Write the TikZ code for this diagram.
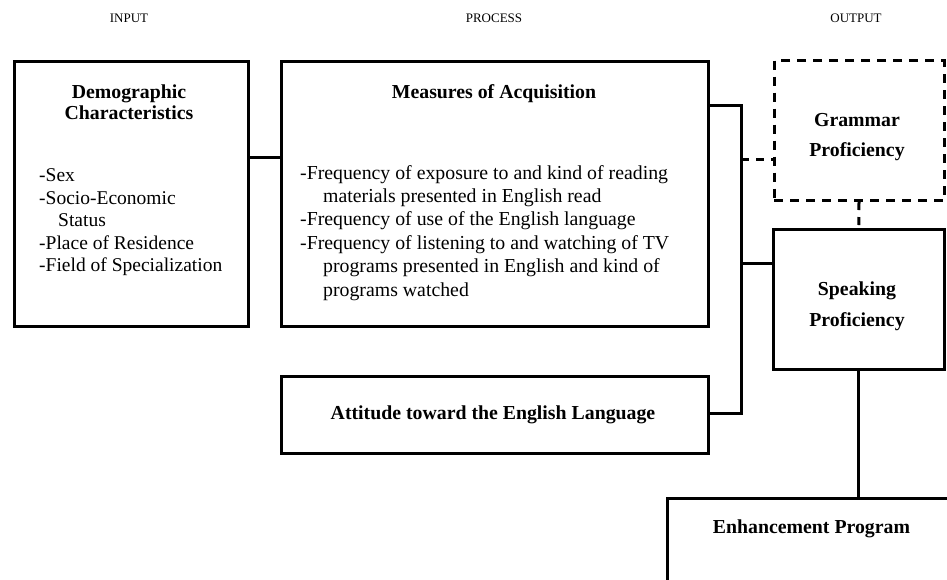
\documentclass[tikz,border=0pt]{standalone}
\usepackage{fontspec}
\setmainfont{Liberation Serif}
\begin{document}
\begin{tikzpicture}[x = 1pt, y = 1pt, yscale = -1, xscale = 1,
  box/.style = {draw, line width = 3pt, inner sep = 0pt, anchor = north west},
  dashbox/.style = {box, dash pattern = on 9pt off 7pt},
  link/.style = {line width = 3pt},
  dashlink/.style = {link, dash pattern = on 8pt off 7pt},
  head/.style = {font = \fontsize{13}{15}\selectfont, inner sep = 0pt},
  title/.style = {font = \fontsize{19.8}{21}\selectfont\bfseries, align = center, inner sep = 0pt},
  listtext/.style = {font = \fontsize{19.5}{22.5}\selectfont, align = left, inner sep = 0pt, anchor = north west}]
\useasboundingbox (0, 0) rectangle (947, 579);
\clip (0, 0) rectangle (947, 579);
% column heads
\node [head] (hin) at (129, 18) {INPUT};
\node [head] (hproc) at (494, 18) {PROCESS};
\node [head] (hout) at (856, 18) {OUTPUT};
% boxes
\node [box, minimum width = 234pt, minimum height = 265pt] (demo) at (12.7, 60) {};
\node [box, minimum width = 426.7pt, minimum height = 265pt] (meas) at (280, 60) {};
\node [box, minimum width = 426.7pt, minimum height = 77.5pt] (att) at (280, 374.5) {};
\node [dashbox, minimum width = 170pt, minimum height = 140pt] (gram) at (772.5, 59) {};
\node [box, minimum width = 170.5pt, minimum height = 140pt] (speak) at (772, 228) {};
\node [box, minimum width = 291pt, minimum height = 130pt] (enh) at (666, 497) {};
% texts
\node [title] (demotitle) at (129, 102.5) {Demographic\\Characteristics};
\node [listtext] (demolist) at (39, 168.5) {-Sex\\-Socio-Economic\\\hspace{19pt}Status\\-Place of Residence\\-Field of Specialization};
\node [title] (meastitle) at (494, 93.5) {Measures of Acquisition};
\node [listtext, font = \fontsize{19.8}{23.4}\selectfont] (measlist) at (300, 165) {-Frequency of exposure to and kind of reading\\\hspace{23pt}materials presented in English read\\-Frequency of use of the English language\\-Frequency of listening to and watching of TV\\\hspace{23pt}programs presented in English and kind of\\\hspace{23pt}programs watched};
\node [title] (atttitle) at (493, 415) {Attitude toward the English Language};
\node [title, font = \fontsize{19.8}{30}\selectfont\bfseries] (gramtitle) at (857, 137.5) {Grammar\\Proficiency};
\node [title, font = \fontsize{19.8}{31}\selectfont\bfseries] (speaktitle) at (857, 306) {Speaking\\Proficiency};
\node [title] (enhtitle) at (811.5, 529) {Enhancement Program};
% connectors
\coordinate (dlink) at (0, 157);
\coordinate (busT) at (741, 105);
\coordinate (busB) at (741, 413);
\coordinate (glink) at (741, 159);
\coordinate (slink) at (741, 263);
\draw [link] (demo.east |- dlink) -- (meas.west |- dlink);
\draw [link] (meas.east |- busT) -- (busT) -- (busB) -- (att.east |- busB);
\draw [dashlink] (glink) -- (gram.west |- glink);
\draw [link] (slink) -- (speak.west |- slink);
\draw [dashlink] (gram.south) -- (speak.north);
\draw [link] (speak.south) -- (speak.south |- enh.north);
\end{tikzpicture}
\end{document}
